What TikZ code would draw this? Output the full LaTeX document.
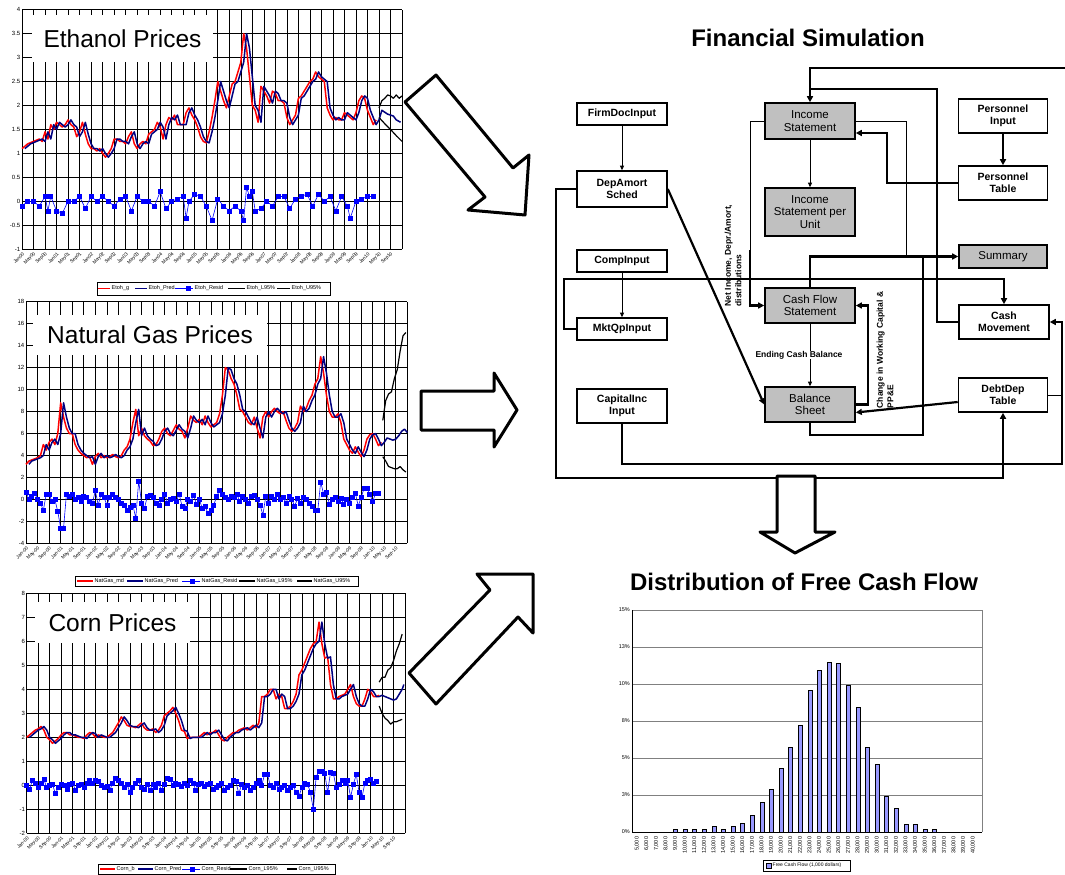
\documentclass[tikz,border=0pt]{standalone}
\usepackage{fontspec}
\setmainfont{Liberation Sans}
\setsansfont{Liberation Sans}
\usetikzlibrary{arrows.meta,plotmarks}
\definecolor{navyc}{RGB}{0,0,128}
\definecolor{boxgrey}{RGB}{192,192,192}
\definecolor{barc}{RGB}{153,153,255}
\def\ethA{(0,1.1)--(2,1.2)--(4,1.25)--(6,1.3)--(7,1.25)--(8,1.45)--(9,1.3)--(10,1.6)--(11,1.5)--(12,1.65)--(13,1.6)--(14,1.55)--(15,1.6)--(16,1.7)--(17,1.6)--(18,1.55)--(19,1.35)--(20,1.45)--(21,1.65)--(22,1.4)--(23,1.2)--(24,1.1)--(25,1.1)--(26,1.05)--(27,1.1)--(28,1.0)--(29,0.92)--(30,1.0)--(31,1.1)--(32,1.3)--(33,1.3)--(34,1.25)--(35,1.25)--(36,1.2)--(37,1.35)--(38,1.45)--(39,1.2)--(40,1.1)--(41,1.2)--(42,1.25)--(43,1.2)--(44,1.4)--(45,1.45)--(46,1.5)--(47,1.65)--(48,1.55)--(49,1.3)--(50,1.6)--(51,1.75)--(52,1.7)--(53,1.8)--(54,1.6)--(55,1.6)--(56,1.6)--(57,1.85)--(58,1.95)--(59,1.8)--(60,1.7)--(61,1.55)--(62,1.35)--(63,1.25)--(64,1.22)--(65,1.45)--(66,1.75)--(67,2.1)--(68,2.5)--(69,2.3)--(70,2.1)--(71,1.95)--(72,2.2)--(73,2.45)--(74,2.5)--(75,2.7)--(76,2.9)--(77,3.5)--(78,3.2)--(79,2.6)--(80,2.0)--(81,1.9)--(82,1.65)--(83,2.4)--(84,2.3)--(85,2.2)--(86,2.05)--(87,2.3)--(88,2.25)--(89,2.1)--(90,2.1)--(91,2.05)--(92,1.75)--(93,1.6)--(94,1.7)--(95,1.8)--(96,2.15)--(97,2.2)--(98,2.3)--(99,2.4)--(100,2.5)--(101,2.55)--(102,2.7)--(103,2.6)--(104,2.55)--(105,2.5)--(106,1.95)--(107,1.8)--(108,1.7)--(109,1.75)--(110,1.7)--(111,1.7)--(112,1.85)--(113,1.8)--(114,1.75)--(115,1.7)--(116,1.85)--(117,2.1)--(118,2.2)--(119,2.15)--(120,1.9)--(121,1.75)--(122,1.6)--(123,1.7)}
\def\ngA{(0,3.2)--(1,3.5)--(2,3.6)--(3,3.7)--(4,3.8)--(5,4.0)--(6,5.0)--(7,4.5)--(8,5.2)--(9,5.5)--(10,5.0)--(11,6.0)--(12,8.8)--(13,7.5)--(14,6.5)--(15,6.0)--(16,6.0)--(17,5.0)--(18,4.5)--(19,4.2)--(20,4.0)--(21,3.8)--(22,3.9)--(23,3.2)--(24,3.9)--(25,4.2)--(26,3.8)--(27,4.0)--(28,3.8)--(29,3.9)--(30,4.1)--(31,3.9)--(32,3.8)--(33,4.0)--(34,4.5)--(35,4.8)--(36,5.5)--(37,7.0)--(38,8.2)--(39,5.8)--(40,6.5)--(41,5.8)--(42,5.5)--(43,5.3)--(44,4.9)--(45,5.0)--(46,5.5)--(47,6.2)--(48,6.5)--(49,6.0)--(50,5.8)--(51,6.3)--(52,6.8)--(53,6.4)--(54,6.2)--(55,5.6)--(56,6.5)--(57,7.6)--(58,7.2)--(59,7.0)--(60,7.3)--(61,6.8)--(62,7.6)--(63,7.0)--(64,6.6)--(65,6.8)--(66,7.0)--(67,7.8)--(68,9.5)--(69,12.0)--(70,11.8)--(71,11.0)--(72,10.5)--(73,9.5)--(74,8.2)--(75,8.0)--(76,7.5)--(77,7.0)--(78,6.8)--(79,7.5)--(80,6.5)--(81,5.6)--(82,7.5)--(83,8.0)--(84,7.5)--(85,8.0)--(86,8.3)--(87,8.0)--(88,7.8)--(89,8.0)--(90,7.2)--(91,6.5)--(92,6.2)--(93,6.5)--(94,7.0)--(95,8.5)--(96,8.0)--(97,8.3)--(98,9.0)--(99,9.5)--(100,10.5)--(101,11.0)--(102,13.0)--(103,11.5)--(104,9.5)--(105,8.0)--(106,7.5)--(107,7.5)--(108,7.8)--(109,7.0)--(110,5.5)--(111,5.0)--(112,4.5)--(113,4.2)--(114,4.8)--(115,4.3)--(116,3.9)--(117,4.5)--(118,5.5)--(119,5.9)--(120,6.0)--(121,5.5)--(122,4.9)--(123,5.2)}
\def\cornA{(0,2.0)--(1,2.1)--(2,2.2)--(3,2.3)--(4,2.35)--(5,2.45)--(6,2.3)--(7,2.0)--(8,1.9)--(9,1.75)--(10,1.85)--(11,1.95)--(12,2.1)--(13,2.2)--(14,2.2)--(15,2.1)--(16,2.1)--(17,2.05)--(18,2.0)--(19,2.0)--(20,1.95)--(21,2.1)--(22,2.2)--(23,2.15)--(24,2.0)--(25,2.1)--(26,2.05)--(27,2.0)--(28,2.0)--(29,2.1)--(30,2.2)--(31,2.4)--(32,2.6)--(33,2.85)--(34,2.7)--(35,2.5)--(36,2.45)--(37,2.45)--(38,2.4)--(39,2.5)--(40,2.6)--(41,2.4)--(42,2.3)--(43,2.3)--(44,2.35)--(45,2.2)--(46,2.3)--(47,2.5)--(48,2.9)--(49,3.0)--(50,3.1)--(51,3.25)--(52,3.0)--(53,2.7)--(54,2.3)--(55,2.25)--(56,1.95)--(57,2.0)--(58,2.0)--(59,2.0)--(60,2.0)--(61,2.1)--(62,2.2)--(63,2.1)--(64,2.2)--(65,2.2)--(66,2.3)--(67,2.1)--(68,1.9)--(69,1.85)--(70,2.0)--(71,2.1)--(72,2.2)--(73,2.2)--(74,2.3)--(75,2.35)--(76,2.4)--(77,2.3)--(78,2.4)--(79,2.5)--(80,2.4)--(81,2.6)--(82,3.7)--(83,3.7)--(84,3.8)--(85,4.0)--(86,4.0)--(87,3.6)--(88,3.8)--(89,3.7)--(90,3.2)--(91,3.2)--(92,3.3)--(93,3.5)--(94,3.8)--(95,4.6)--(96,4.8)--(97,5.1)--(98,5.4)--(99,5.7)--(100,5.9)--(101,6.0)--(102,6.8)--(103,5.9)--(104,5.3)--(105,5.35)--(106,4.2)--(107,3.6)--(108,3.6)--(109,3.7)--(110,3.75)--(111,3.8)--(112,4.0)--(113,4.2)--(114,3.7)--(115,3.4)--(116,3.3)--(117,3.3)--(118,3.6)--(119,4.0)--(120,3.9)--(121,3.7)--(122,3.7)--(123,3.75)}
\tikzset{
  grd/.style={black, line width=0.6pt},
  act/.style={red, line width=1.5pt, line join=round},
  prd/.style={navyc, line width=1.5pt, line join=round},
  bnd/.style={black, line width=1.2pt, line join=round},
  res/.style={blue, line width=0.6pt, mark=square*, mark size=2pt, mark options={fill=blue, draw=blue, solid}},
  ylab/.style={anchor=east, font=\fontsize{6}{7}\selectfont, inner sep=1.5pt},
  xlab/.style={xshift=1.5pt, yshift=-4pt, rotate=45, anchor=east, font=\fontsize{4.8}{5}\selectfont, inner sep=0pt},
  ctitle/.style={fill=white, inner sep=0pt, font=\fontsize{24.5}{28}\selectfont},
  lg/.style={anchor=west, font=\fontsize{5.5}{6}\selectfont, inner sep=0.5pt},
  mtitle/.style={font=\bfseries\fontsize{24}{28}\selectfont},
  wbox/.style={draw, line width=1.6pt, fill=white, minimum width=90pt, align=center, inner sep=1pt, font=\bfseries\fontsize{10.5}{12}\selectfont},
  gbox/.style={draw, line width=1.6pt, fill=boxgrey, minimum width=90pt, align=center, inner sep=1pt, font=\fontsize{11.5}{12.5}\selectfont},
  thk/.style={line width=2.2pt},
  thn/.style={line width=0.8pt},
  tarr/.style={-{Triangle[length=6pt,width=6pt]}},
  sarr/.style={-{Triangle[length=4.5pt,width=4pt]}},
  elab/.style={font=\bfseries\fontsize{8.5}{10.5}\selectfont, inner sep=0.5pt},
  bigarr/.style={draw=black, fill=white, line width=3pt, line join=round},
  bar/.style={fill=barc, draw=black, line width=0.5pt},
  hlab/.style={anchor=east, font=\fontsize{5.5}{6}\selectfont, inner sep=2pt},
  hxlab/.style={rotate=90, anchor=east, font=\fontsize{5.5}{6}\selectfont, inner sep=1pt}
}
\begin{document}
\begin{tikzpicture}[x=1pt,y=-1pt]
\useasboundingbox (0,0) rectangle (1065,875);
\fill[white] (0,0) rectangle (1065,875);

%================ Chart 1: Ethanol ================
\begin{scope}[shift={(22,201.3)}]
\begin{scope}[x=2.879pt,y=47.9pt]
\foreach \m in {0,4,...,128} \draw[grd] (\m,-1) -- (\m,4);
\draw[grd] (132,-1) -- (132,4);
\foreach \v in {-1,-0.5,...,4} \draw[grd] (0,\v) -- (132,\v);
\foreach \v in {4,3.5,3,2.5,2,1.5,1,0.5,0,-0.5,-1} \node[ylab] at (0,\v) {\v};
\foreach \yy [count=\k from 0] in {00,01,02,03,04,05,06,07,08,09,10} {
  \foreach \mm [count=\j from 0] in {Jan,May,Sep} {\node[xlab] at ({12*\k+4*\j},-1) {\mm\yy};}}
\draw[act] \ethA;
\draw[prd,xshift=2.879pt] \ethA;
\draw[prd] (124,1.7)--(125,1.9)--(127,1.82)--(129,1.78)--(130,1.7)--(131.5,1.65);
\draw[bnd] (124,1.95)--(125,2.1)--(126,2.15)--(127,2.22)--(128,2.2)--(129,2.15)--(130,2.22)--(131,2.15)--(132,2.2);
\draw[bnd] (124,1.75)--(126,1.62)--(128,1.5)--(130,1.37)--(132,1.25);
\draw[res] plot coordinates {(0,-0.1) (2,0) (4,0) (6,-0.1) (8,0.1) (9,-0.2) (10,0.1) (12,-0.2) (14,-0.25) (16,0) (18,0) (20,0.1) (22,-0.15) (24,0.1) (26,0) (28,0.1) (30,0) (32,-0.1) (34,0.05) (36,0.1) (38,-0.2) (40,0.1) (42,0) (44,0) (46,-0.1) (48,0.2) (50,-0.15) (52,0) (54,0.05) (56,0.1) (57,-0.35) (58,0) (60,0.15) (62,0.1) (64,-0.1) (66,-0.4) (68,0.05) (70,-0.1) (72,-0.2) (74,-0.1) (76,-0.2) (77,-0.4) (78,0.3) (79,0.1) (80,0.2) (81,-0.2) (83,-0.15) (85,0) (87,-0.1) (89,0.1) (91,0.1) (93,-0.15) (95,0.05) (97,0.1) (99,0.15) (101,-0.1) (103,0.15) (105,0) (107,0.1) (109,-0.2) (111,0.1) (113,-0.1) (114,-0.35) (116,0) (118,0.05) (120,0.1) (122,0.1)};
\end{scope}
\end{scope}
\node[ctitle, minimum width=181pt, minimum height=47pt] (t1) at (122.5,38.5) {Ethanol Prices};
\draw[line width=0.8pt] (97,282) rectangle (330,295);
\draw[red, line width=1.5pt] (98,288.5) -- (110,288.5); \node[lg] (l11) at (111,288.5) {Etoh\_g};
\draw[navyc, line width=1.5pt] (135,288.5) -- (147,288.5); \node[lg] (l12) at (148,288.5) {Etoh\_Pred};
\draw[blue, line width=0.8pt] (175,288.5) -- (193,288.5); \fill[blue] (185.5,286) rectangle (190.5,291); \node[lg] (l13) at (194,288.5) {Etoh\_Resid};
\draw[black, line width=1.2pt] (228,288.5) -- (245,288.5); \node[lg] (l14) at (246,288.5) {Etoh\_L95\%};
\draw[black, line width=1.2pt] (277,288.5) -- (290,288.5); \node[lg] (l15) at (291,288.5) {Etoh\_U95\%};

%================ Chart 2: Natural Gas ================
\begin{scope}[shift={(26,499.5)}]
\begin{scope}[x=2.889pt,y=10.99pt]
\foreach \m in {0,4,...,128} \draw[grd] (\m,-4) -- (\m,18);
\draw[grd] (132,-4) -- (132,18);
\foreach \v in {-4,-2,...,18} \draw[grd] (0,\v) -- (132,\v);
\foreach \v in {18,16,14,12,10,8,6,4,2,0,-2,-4} \node[ylab] at (0,\v) {\v};
\foreach \yy [count=\k from 0] in {00,01,02,03,04,05,06,07,08,09,10} {
  \foreach \mm [count=\j from 0] in {Jan,May,Sep} {\node[xlab] at ({12*\k+4*\j},-4) {\mm-\yy};}}
\draw[act] \ngA;
\draw[prd,xshift=2.889pt] \ngA;
\draw[prd] (124,5.2)--(125,5.6)--(126,5.5)--(127,5.4)--(128,5.5)--(129,5.8)--(130,6.2)--(131,6.4)--(132,6.1);
\draw[bnd] (123.5,7.2)--(124.5,9.0)--(125.5,9.6)--(126.5,9.8)--(127.5,11.0)--(128.5,11.8)--(129.5,13.5)--(130.5,14.9)--(131.5,15.2);
\draw[bnd] (123.5,3.9)--(124.5,3.5)--(125.5,3.0)--(126.5,2.9)--(127.5,2.8)--(128.5,2.8)--(129.5,3.0)--(130.5,2.7)--(131.5,2.5);
\draw[res] plot coordinates {(0,0.7) (1,0) (2,0.3) (3,0.6) (4,0) (5,-0.3) (6,-1.0) (7,0.5) (8,0.5) (9,-0.2) (10,0) (11,-1.1) (12,-2.6) (13,-2.6) (14,0.5) (15,0.3) (16,0.5) (17,0) (18,0.2) (19,-0.2) (20,0.3) (21,0.2) (22,-0.2) (23,-0.3) (24,0.8) (25,-0.5) (26,0.5) (27,0.2) (28,-0.5) (29,0.2) (30,0.5) (31,0.2) (32,0) (33,-0.3) (34,-0.5) (35,-1.0) (36,-0.7) (37,-0.5) (38,-1.7) (39,1.7) (40,-0.3) (41,-0.8) (42,0.3) (43,0.4) (44,0.2) (45,-0.3) (46,-0.5) (47,0) (48,0.5) (49,-0.3) (50,0) (51,0.1) (52,-0.2) (53,0.5) (54,-0.6) (55,-0.8) (56,0) (57,-0.2) (58,0.4) (59,-0.4) (60,0) (61,-0.8) (62,-0.6) (63,-1.3) (64,-1.0) (65,-0.5) (66,0.3) (67,0.8) (68,0.5) (69,0.2) (70,0) (71,0.3) (72,0.2) (73,0.5) (74,-0.2) (75,0.3) (76,0) (77,-0.3) (78,0.3) (79,0.4) (80,0) (81,-0.5) (82,-1.4) (83,0.3) (84,-0.3) (85,0.3) (86,0) (87,0.5) (88,0) (89,0.2) (90,-0.3) (91,0.3) (92,0) (93,-0.6) (94,0.1) (95,-0.3) (96,0.2) (97,0) (98,-0.3) (99,-0.6) (100,-1.0) (101,-1.0) (102,1.6) (103,0.5) (104,0.7) (105,-0.4) (106,0) (107,0.2) (108,-0.2) (109,0.1) (110,-0.4) (111,0) (112,-0.3) (113,0.2) (114,0.6) (115,-0.6) (116,0.2) (117,1.0) (118,1.0) (119,0.5) (120,-0.2) (121,0.6) (122,0.6)};
\end{scope}
\end{scope}
\node[ctitle, minimum width=234pt, minimum height=40pt] (t2) at (150,335) {Natural Gas Prices};
\draw[line width=0.8pt] (75,576) rectangle (358,586);
\draw[red, line width=1.5pt] (77,581) -- (93,581); \node[lg] (l21) at (94,581) {NatGas\_md};
\draw[navyc, line width=1.5pt] (127,581) -- (143,581); \node[lg] (l22) at (144,581) {NatGas\_Pred};
\draw[blue, line width=0.8pt] (182,581) -- (200,581); \fill[blue] (189.5,578.5) rectangle (194.5,583.5); \node[lg] (l23) at (201,581) {NatGas\_Resid};
\draw[black, line width=1.2pt] (239,581) -- (255,581); \node[lg] (l24) at (256,581) {NatGas\_L95\%};
\draw[black, line width=1.2pt] (297,581) -- (312,581); \node[lg] (l25) at (313,581) {NatGas\_U95\%};

%================ Chart 3: Corn ================
\begin{scope}[shift={(26.7,785.3)}]
\begin{scope}[x=2.866pt,y=24pt]
\foreach \m in {0,4,...,128} \draw[grd] (\m,-2) -- (\m,8);
\draw[grd] (132,-2) -- (132,8);
\foreach \v in {-2,-1,...,8} \draw[grd] (0,\v) -- (132,\v);
\foreach \v in {8,7,6,5,4,3,2,1,0,-1,-2} \node[ylab] at (0,\v) {\v};
\foreach \yy [count=\k from 0] in {00,01,02,03,04,05,06,07,08,09,10} {
  \foreach \mm [count=\j from 0] in {Jan,May,Sep} {\node[xlab] at ({12*\k+4*\j},-2) {\mm-\yy};}}
\draw[act] \cornA;
\draw[prd,xshift=2.866pt] \cornA;
\draw[prd] (124,3.75)--(125,3.7)--(126,3.65)--(127,3.6)--(128,3.55)--(129,3.6)--(130,3.8)--(131,4.0)--(131.6,4.2);
\draw[bnd] (123,4.3)--(124,4.5)--(125,4.5)--(126,4.8)--(127,4.9)--(128,5.2)--(129,5.6)--(130,5.9)--(131,6.3);
\draw[bnd] (123,3.3)--(124,3.0)--(125,2.8)--(126,2.7)--(127,2.55)--(128,2.65)--(129,2.65)--(130,2.7)--(131,2.75);
\draw[res] plot coordinates {(0,0) (1,-0.15) (2,0.2) (3,0.1) (4,-0.1) (5,0.1) (6,0.25) (7,-0.1) (8,0) (9,0.05) (10,-0.35) (11,-0.1) (12,0.05) (13,0) (14,-0.15) (15,0.05) (16,0.1) (17,-0.2) (18,0) (19,0.05) (20,-0.1) (21,0.1) (22,0.2) (23,0.1) (24,0.2) (25,0.15) (26,0) (27,-0.1) (28,-0.05) (29,-0.2) (30,0.1) (31,0.3) (32,0.2) (33,0.1) (34,-0.1) (35,0.05) (36,-0.3) (37,-0.1) (38,0.1) (39,0.2) (40,-0.1) (41,-0.15) (42,0.05) (43,-0.2) (44,0.05) (45,-0.1) (46,0.1) (47,-0.2) (48,0.05) (49,0.3) (50,0.25) (51,0) (52,0.1) (53,0.05) (54,-0.05) (55,0.1) (56,0) (57,0.2) (58,0.1) (59,-0.2) (60,0.05) (61,0.1) (62,-0.05) (63,0.05) (64,0.1) (65,-0.15) (66,-0.1) (67,0) (68,0.1) (69,-0.2) (70,-0.1) (71,0) (72,0.2) (73,0.15) (74,-0.35) (75,0.05) (76,-0.1) (77,0) (78,-0.2) (79,-0.1) (80,0.1) (81,0.2) (82,0) (83,0.45) (84,0.45) (85,0) (86,-0.1) (87,0.1) (88,-0.15) (89,-0.1) (90,0) (91,-0.2) (92,-0.1) (93,0) (94,-0.3) (95,-0.45) (96,-0.1) (97,0.1) (98,0.05) (99,-0.3) (100,-1.0) (101,0.35) (102,0.6) (103,0.6) (104,0.5) (105,-0.3) (106,0.55) (107,0.5) (108,-0.1) (109,0.05) (110,0.2) (111,0.1) (112,0.2) (113,-0.5) (114,0.05) (115,0.45) (116,-0.3) (117,-0.5) (118,0.1) (119,0.2) (120,0.25) (121,0.1) (122,0.15)};
\end{scope}
\end{scope}
\node[ctitle, minimum width=155pt, minimum height=41pt] (t3) at (112.5,622.5) {Corn Prices};
\draw[line width=0.8pt] (98,864) rectangle (335,874);
\draw[red, line width=1.5pt] (100,869) -- (115,869); \node[lg] (l31) at (116,869) {Corn\_b};
\draw[navyc, line width=1.5pt] (138,869) -- (153,869); \node[lg] (l32) at (154,869) {Corn\_Pred};
\draw[blue, line width=0.8pt] (182,869) -- (200,869); \fill[blue] (189.5,866.5) rectangle (194.5,871.5); \node[lg] (l33) at (201,869) {Corn\_Resid};
\draw[black, line width=1.2pt] (230,869) -- (247,869); \node[lg] (l34) at (248,869) {Corn\_L95\%};
\draw[black, line width=1.2pt] (287,869) -- (297,869); \node[lg] (l35) at (298,869) {Corn\_U95\%};

%================ Titles ================
\node[mtitle] (fs) at (808,38) {Financial Simulation};
\node[mtitle] (dfcf) at (804,582) {Distribution of Free Cash Flow};

%================ Flow diagram ================
\node[wbox, minimum height=22pt] (firm) at (622,114) {FirmDocInput};
\node[wbox, minimum height=36pt] (dep) at (622,189) {DepAmort\\Sched};
\node[wbox, minimum height=22pt] (comp) at (622,261) {CompInput};
\node[wbox, minimum height=22pt] (mkt) at (622,329) {MktQpInput};
\node[wbox, minimum height=34pt] (cap) at (622,406) {CapitalInc\\Input};
\node[gbox, minimum height=36pt] (inc) at (810,121) {Income\\Statement};
\node[gbox, minimum height=48pt] (incu) at (810,212) {Income\\Statement per\\Unit};
\node[gbox, minimum height=23pt, minimum width=88pt] (sum) at (1003,256.5) {Summary};
\node[gbox, minimum height=35pt] (cfs) at (810,305.5) {Cash Flow\\Statement};
\node[gbox, minimum height=35pt] (bs) at (810,404.5) {Balance\\Sheet};
\node[wbox, minimum height=34pt, minimum width=89pt] (pin) at (1003,116) {Personnel\\Input};
\node[wbox, minimum height=34pt, minimum width=89pt] (ptab) at (1003,183) {Personnel\\Table};
\node[wbox, minimum height=34pt, minimum width=90pt] (cmov) at (1004,322) {Cash\\Movement};
\node[wbox, minimum height=34pt, minimum width=89pt] (debt) at (1003,395) {DebtDep\\Table};

\coordinate (tin) at (1065,68);
\draw[thn,sarr] (firm) -- (dep);
\draw[thn,sarr] (comp) -- (mkt);
\draw[thk,tarr] (dep.east) -- (bs.west);
\draw[thk,tarr] (tin) -- (810,68) -- (inc.north);
\draw[thk] (cmov.west) -| (937,89) -- (810,89);
\draw[thn] (inc.east) -| (906,256.5);
\draw[thk,tarr] (cfs.north) |- (sum.west);
\draw[line width=1.4pt] (bs.south) |- (923,435) -- (923,256.5);
\draw[thn] (inc.west) -- (750,121) -- (750,250);
\draw[thk,tarr] (750,250) |- (cfs.west);
\draw[thk,tarr] (mkt.west) -- (564,329) |- (1004,279) -- (cmov.north);
\draw[thn,sarr] (cfs.south) -- (bs.north);
\node[elab, fill=white] (ecb) at (799,355) {Ending Cash Balance};
\draw[thk,tarr] (bs.east) -- (868,404.5) |- (cfs.east);
\draw[thk,tarr] ([yshift=-7pt]debt.west) -- ([yshift=-8pt]bs.east);
\draw[thk,tarr] (pin) -- (ptab);
\draw[thk,tarr] (ptab.west) -- (887,183) |- ([yshift=-12pt]inc.east);
\draw[thn,sarr] (inc) -- (incu);
\draw[thk,tarr] (dep.west) -- (556,189) |- (1003,478) -- (debt.south);
\draw[line width=1.6pt,tarr] (cap.south) |- (1062,464) |- (cmov.east);
\draw[thn] (debt.east) -- (1062,395);
\node[elab, rotate=90, anchor=north west, align=left] (nil) at (724,307) {Net Income, Depr./Amort,\\distributions};
\node[elab, rotate=90, anchor=north west, align=left] (cwc) at (876,409) {Change in Working Capital \&\\PP\&E};

%================ Histogram ================
\begin{scope}[shift={(632,832)}]
\begin{scope}[x=1pt,y=14.8pt]
\foreach \v in {2.5,5,...,15} \draw[gray, line width=0.7pt] (0,\v) -- (350,\v);
\draw[gray, line width=0.7pt] (350,0) -- (350,15);
\draw[black, line width=0.8pt] (0,15) -- (0,0) -- (350,0);
\foreach \v/\t in {0/0,2.5/3,5/5,7.5/8,10/10,12.5/13,15/15} \node[hlab] at (0,\v) {\t\%};
\foreach \h [count=\i from 0] in {0,0,0,0,0.2,0.2,0.2,0.2,0.4,0.2,0.4,0.6,1.1,2.0,2.9,4.3,5.7,7.2,9.6,10.9,11.5,11.4,9.9,8.4,5.7,4.6,2.4,1.6,0.5,0.5,0.2,0.2,0,0,0,0} {
  \ifdim\h pt>0pt \draw[bar] ({5+9.6*\i-2},0) rectangle ({5+9.6*\i+2},\h);\fi
  \pgfmathtruncatemacro\kk{5+\i}
  \node[hxlab] at ({5+9.6*\i},-0.25) {\kk,000};
}
\end{scope}
\end{scope}
\draw[line width=0.6pt] (763,860) rectangle (850,871);
\filldraw[fill=barc, draw=black, line width=0.4pt] (766,863) rectangle (771,868);
\node[anchor=west, font=\fontsize{5}{6}\selectfont, inner sep=1pt] (hleg) at (771.5,865.5) {Free Cash Flow (1,000 dollars)};

%================ Big arrows ================
\draw[bigarr] (405,102) -- (436,75) -- (513,168) -- (529,155) -- (525,215) -- (468,210) -- (485,197) -- cycle;
\draw[bigarr] (421,391) -- (494,391) -- (494,373) -- (517,410) -- (494,447) -- (494,430) -- (421,430) -- cycle;
\draw[bigarr] (409,673) -- (490,590) -- (477,574) -- (533,574) -- (533,633) -- (518,617) -- (436,704) -- cycle;
\draw[bigarr] (777,476) -- (815,476) -- (815,532) -- (835,532) -- (795,553) -- (760,532) -- (777,532) -- cycle;
\end{tikzpicture}
\end{document}
